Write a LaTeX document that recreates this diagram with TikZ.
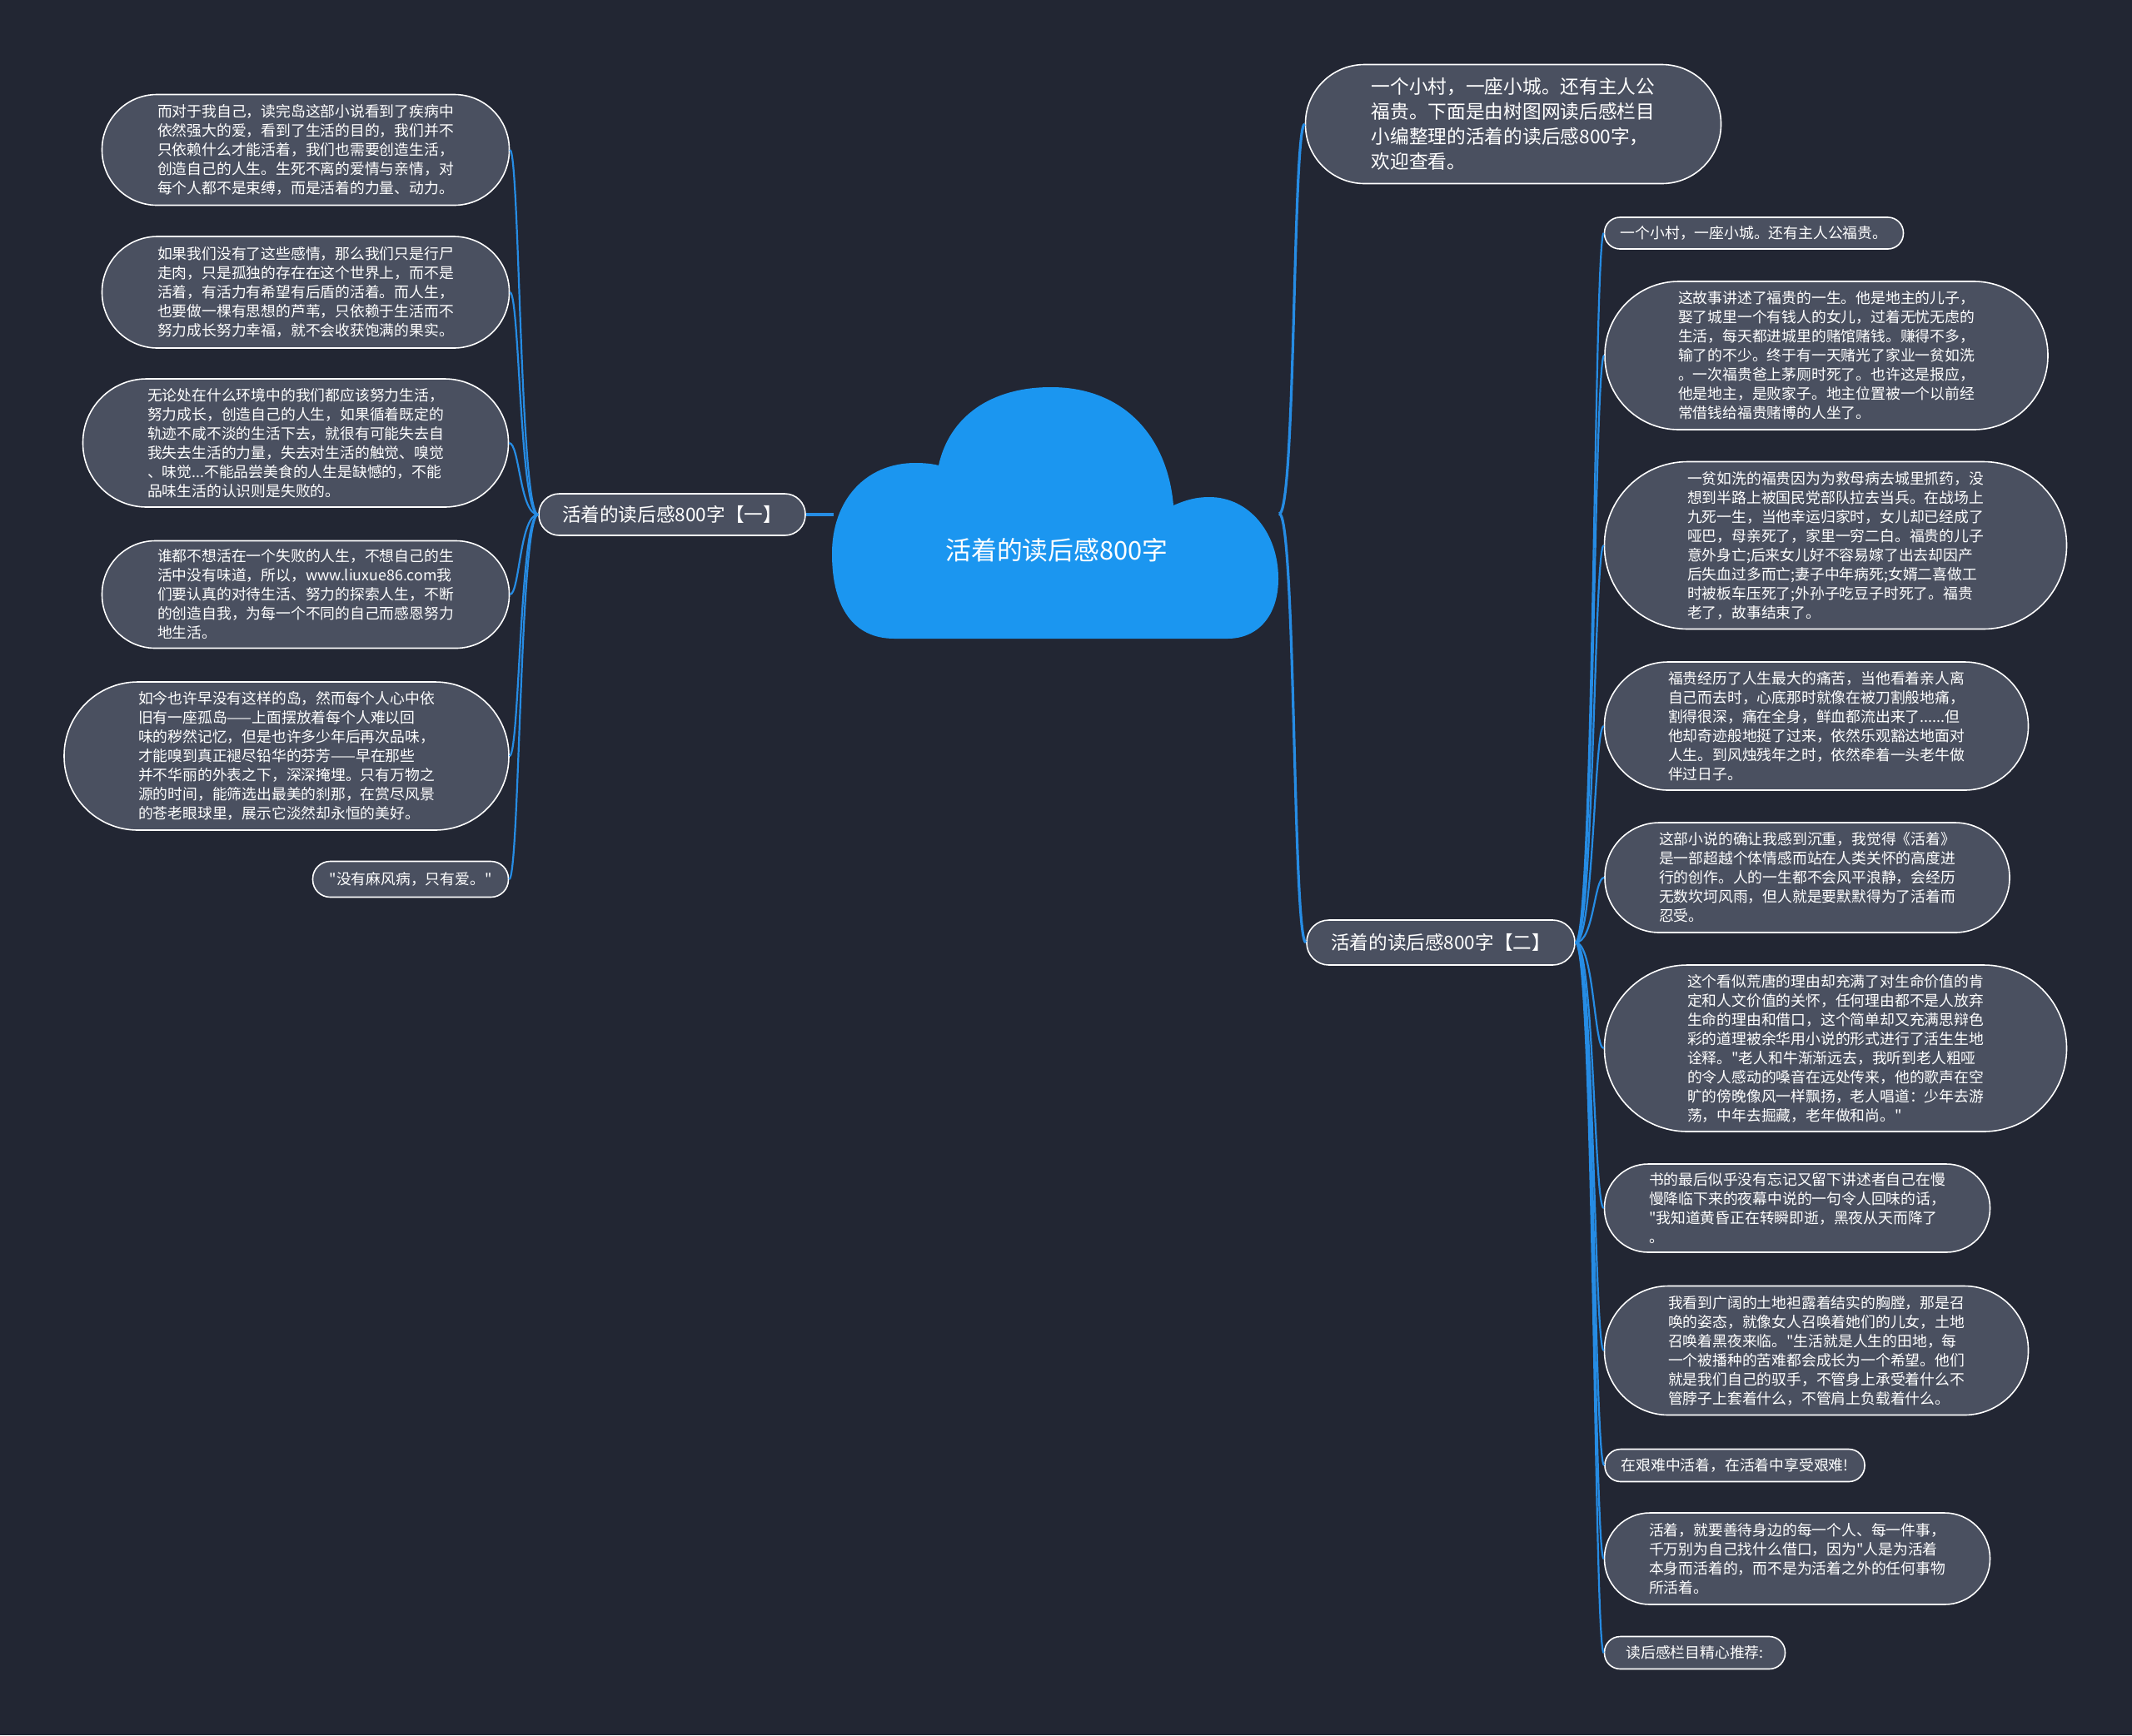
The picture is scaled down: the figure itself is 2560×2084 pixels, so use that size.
\documentclass[tikz,border=0pt]{standalone}
\usepackage{fontspec}
\setmainfont{Noto Sans CJK SC}[Ligatures=TeXOff]
\definecolor{bg}{RGB}{34,38,51}
\definecolor{nodefill}{RGB}{74,80,96}
\definecolor{cloudblue}{RGB}{27,150,240}
\definecolor{linkblue}{RGB}{38,140,228}
\begin{document}
\begin{tikzpicture}[x=0.5pt,y=-0.5pt,
  leaf/.style={draw=white, line width=0.8pt, fill=nodefill, text=white, align=left, inner sep=0pt,
    font=\fontsize{8.9pt}{11.5pt}\selectfont},
  bigleaf/.style={leaf, font=\fontsize{11.35pt}{15pt}\selectfont},
  branch/.style={leaf, align=center, font=\fontsize{11.3pt}{14pt}\selectfont},
  sz/.style n args={3}{minimum width=#1pt, minimum height=#2pt, rounded corners=#3pt},
  link/.style={draw=linkblue, line width=1.1pt},
  mainlink/.style={draw=linkblue, line width=1.6pt},
]
\fill[bg] (0,0) rectangle (2560,2084);
\useasboundingbox (0,0) rectangle (2560,2084);

% cloud
\fill[cloudblue] (1074,767) .. controls (1025,767) and (999,730) .. (999,665)
  .. controls (999,600) and (1040,556) .. (1099,556)
  .. controls (1110,556) and (1120,557) .. (1127,559)
  .. controls (1140,500) and (1190,465) .. (1262,465)
  .. controls (1350,465) and (1402,525) .. (1409,607)
  .. controls (1425,600) and (1437,597) .. (1452,597)
  .. controls (1500,597) and (1535,640) .. (1535,695)
  .. controls (1535,740) and (1510,767) .. (1474,767)
  -- cycle;
\node[text=white, font=\fontsize{15.4pt}{18pt}\selectfont] (title) at (1269,661) {活着的读后感800字};
\coordinate (cloudL) at (1001,618);
\coordinate (cloudR) at (1536,617);

% branches
\node[branch, sz={160}{25}{12.3}] (b1) at (807,618) {活着的读后感800字【一】};
\node[branch, sz={161}{27}{13.3}] (b2) at (1730,1132) {活着的读后感800字【二】};
\node[bigleaf, sz={249.5}{71.5}{35.5}] (top) at (1817,149) {一个小村，一座小城。还有主人公\\福贵。下面是由树图网读后感栏目\\小编整理的活着的读后感800字，\\欢迎查看。};

% left leaves
\node[leaf, sz={244.5}{66.5}{33}] (l1) at (367,180) {而对于我自己，读完岛这部小说看到了疾病中\\依然强大的爱，看到了生活的目的，我们并不\\只依赖什么才能活着，我们也需要创造生活，\\创造自己的人生。生死不离的爱情与亲情，对\\每个人都不是束缚，而是活着的力量、动力。};
\node[leaf, sz={244.5}{67}{33.3}] (l2) at (367,351) {如果我们没有了这些感情，那么我们只是行尸\\走肉，只是孤独的存在在这个世界上，而不是\\活着，有活力有希望有后盾的活着。而人生，\\也要做一棵有思想的芦苇，只依赖于生活而不\\努力成长努力幸福，就不会收获饱满的果实。};
\node[leaf, sz={255.5}{77}{38.3}] (l3) at (355,532) {无论处在什么环境中的我们都应该努力生活，\\努力成长，创造自己的人生，如果循着既定的\\轨迹不咸不淡的生活下去，就很有可能失去自\\我失去生活的力量，失去对生活的触觉、嗅觉\\、味觉...不能品尝美食的人生是缺憾的，不能\\品味生活的认识则是失败的。};
\node[leaf, sz={244.5}{64.5}{32}] (l4) at (367,714) {谁都不想活在一个失败的人生，不想自己的生\\活中没有味道，所以，www.liuxue86.com我\\们要认真的对待生活、努力的探索人生，不断\\的创造自我，为每一个不同的自己而感恩努力\\地生活。};
\node[leaf, sz={267}{89}{44.3}] (l5) at (344,908) {如今也许早没有这样的岛，然而每个人心中依\\旧有一座孤岛——上面摆放着每个人难以回\\味的秽然记忆，但是也许多少年后再次品味，\\才能嗅到真正褪尽铅华的芬芳——早在那些\\并不华丽的外表之下，深深掩埋。只有万物之\\源的时间，能筛选出最美的刹那，在赏尽风景\\的苍老眼球里，展示它淡然却永恒的美好。};
\node[leaf, sz={117.5}{21.5}{10.5}] (l6) at (493,1056) {"没有麻风病，只有爱。"};

% right leaves
\node[leaf, sz={179.5}{19}{9.3}] (r1) at (2106,280) {一个小村，一座小城。还有主人公福贵。};
\node[leaf, sz={266}{89}{44.3}] (r2) at (2193,427) {这故事讲述了福贵的一生。他是地主的儿子，\\娶了城里一个有钱人的女儿，过着无忧无虑的\\生活，每天都进城里的赌馆赌钱。赚得不多，\\输了的不少。终于有一天赌光了家业一贫如洗\\。一次福贵爸上茅厕时死了。也许这是报应，\\他是地主，是败家子。地主位置被一个以前经\\常借钱给福贵赌博的人坐了。};
\node[leaf, sz={277.5}{100.5}{50}] (r3) at (2204,655) {一贫如洗的福贵因为为救母病去城里抓药，没\\想到半路上被国民党部队拉去当兵。在战场上\\九死一生，当他幸运归家时，女儿却已经成了\\哑巴，母亲死了，家里一穷二白。福贵的儿子\\意外身亡;后来女儿好不容易嫁了出去却因产\\后失血过多而亡;妻子中年病死;女婿二喜做工\\时被板车压死了;外孙子吃豆子时死了。福贵\\老了，故事结束了。};
\node[leaf, sz={254.5}{77}{38.3}] (r4) at (2181,872) {福贵经历了人生最大的痛苦，当他看着亲人离\\自己而去时，心底那时就像在被刀割般地痛，\\割得很深，痛在全身，鲜血都流出来了......但\\他却奇迹般地挺了过来，依然乐观豁达地面对\\人生。到风烛残年之时，依然牵着一头老牛做\\伴过日子。};
\node[leaf, sz={243}{66}{32.8}] (r5) at (2170,1054) {这部小说的确让我感到沉重，我觉得《活着》\\是一部超越个体情感而站在人类关怀的高度进\\行的创作。人的一生都不会风平浪静，会经历\\无数坎坷风雨，但人就是要默默得为了活着而\\忍受。};
\node[leaf, sz={277.5}{100}{49.8}] (r6) at (2204,1259) {这个看似荒唐的理由却充满了对生命价值的肯\\定和人文价值的关怀，任何理由都不是人放弃\\生命的理由和借口，这个简单却又充满思辩色\\彩的道理被余华用小说的形式进行了活生生地\\诠释。"老人和牛渐渐远去，我听到老人粗哑\\的令人感动的嗓音在远处传来，他的歌声在空\\旷的傍晚像风一样飘扬，老人唱道：少年去游\\荡，中年去掘藏，老年做和尚。"};
\node[leaf, sz={231.5}{53}{26.3}] (r7) at (2158,1451) {书的最后似乎没有忘记又留下讲述者自己在慢\\慢降临下来的夜幕中说的一句令人回味的话，\\"我知道黄昏正在转瞬即逝，黑夜从天而降了\\。};
\node[leaf, sz={254.5}{77.5}{38.5}] (r8) at (2181,1622) {我看到广阔的土地袒露着结实的胸膛，那是召\\唤的姿态，就像女人召唤着她们的儿女，土地\\召唤着黑夜来临。"生活就是人生的田地，每\\一个被播种的苦难都会成长为一个希望。他们\\就是我们自己的驭手，不管身上承受着什么不\\管脖子上套着什么，不管肩上负载着什么。};
\node[leaf, sz={156}{19.5}{9.5}] (r9) at (2083,1760) {在艰难中活着，在活着中享受艰难!};
\node[leaf, sz={231.5}{55}{27.3}] (r10) at (2158,1872) {活着，就要善待身边的每一个人、每一件事，\\千万别为自己找什么借口，因为"人是为活着\\本身而活着的，而不是为活着之外的任何事物\\所活着。};
\node[leaf, sz={108.5}{19.5}{9.5}] (r11) at (2035,1985) {读后感栏目精心推荐:};

% main links
\draw[mainlink] (cloudL) -- (b1.east);
\draw[mainlink] (cloudR) .. controls (1556,617) and (1552,149) .. (top.west);
\draw[mainlink] (cloudR) .. controls (1556,617) and (1552,1132) .. (b2.west);

% left links
\foreach \n/\yy in {l1/180,l2/351,l3/532,l4/714,l5/908,l6/1056}
  \draw[link] (b1.west) .. controls (624,618) and (624,\yy) .. (\n.east);
% right links
\foreach \n/\yy in {r1/280,r2/427,r3/655,r4/872,r5/1054,r6/1259,r7/1451,r8/1622,r9/1760,r10/1872,r11/1985}
  \draw[link] (b2.east) .. controls (1914,1132) and (1914,\yy) .. (\n.west);
\end{tikzpicture}
\end{document}
